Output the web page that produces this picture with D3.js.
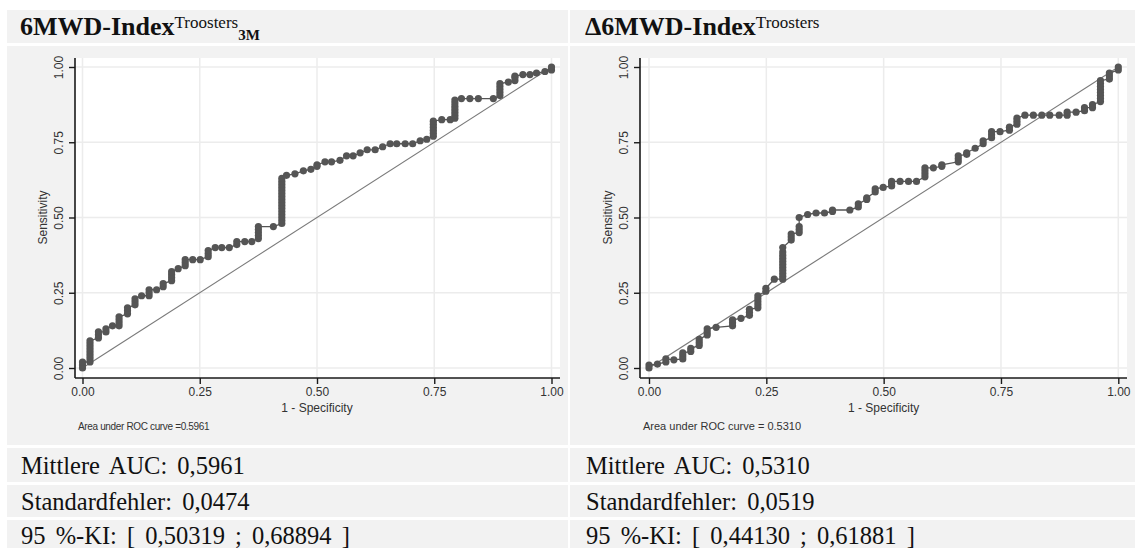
<!DOCTYPE html>
<meta charset="utf-8">
<script src="https://d3js.org/d3.v7.min.js"></script>
<style>
  body { margin: 0; background: #fff; }
  svg { display: block; }
</style>
<div id="my_dataviz"></div>
<script>
    // text content
    var titles = ["6MWD-Index", "\u03946MWD-Index"];
    var titleSup = ["Troosters", "Troosters"];
    var titleSub = ["3M", ""];
    var aucNotes = ["Area under ROC curve =0.5961", "Area under ROC curve = 0.5310"];
    var statAuc = ["Mittlere AUC: 0,5961", "Mittlere AUC: 0,5310"];
    var statSe = ["Standardfehler: 0,0474", "Standardfehler: 0,0519"];
    var statCi = ["95 %-KI: [ 0,50319 ; 0,68894 ]", "95 %-KI: [ 0,44130 ; 0,61881 ]"];
    var tickValues = [0, 0.25, 0.5, 0.75, 1];

    // ROC points [1 - specificity, sensitivity]
    var rocLeft = [
        [0,0],[0,0.01],[0,0.02],
        [0.016,0.02],[0.016,0.03],[0.016,0.04],[0.016,0.05],[0.016,0.06],[0.016,0.07],[0.016,0.08],[0.016,0.09],
        [0.034,0.10],[0.034,0.11],[0.034,0.12],
        [0.050,0.12],[0.050,0.13],
        [0.064,0.14],
        [0.078,0.14],[0.078,0.15],[0.078,0.16],[0.078,0.17],
        [0.096,0.18],[0.096,0.19],[0.096,0.20],
        [0.112,0.21],[0.112,0.22],[0.112,0.23],
        [0.126,0.24],
        [0.142,0.24],[0.142,0.25],[0.142,0.26],
        [0.158,0.26],
        [0.172,0.27],[0.172,0.28],
        [0.190,0.29],[0.190,0.30],[0.190,0.31],[0.190,0.32],
        [0.204,0.33],
        [0.219,0.34],[0.219,0.35],[0.219,0.36],
        [0.235,0.36],[0.251,0.36],
        [0.268,0.37],[0.268,0.38],[0.268,0.39],
        [0.283,0.40],[0.297,0.40],[0.313,0.40],
        [0.329,0.41],[0.329,0.42],
        [0.346,0.42],[0.361,0.42],
        [0.375,0.43],[0.375,0.44],[0.375,0.45],[0.375,0.46],[0.375,0.47],
        [0.407,0.47],
        [0.425,0.48],[0.425,0.49],[0.425,0.50],[0.425,0.51],[0.425,0.52],[0.425,0.53],[0.425,0.54],[0.425,0.55],
        [0.425,0.56],[0.425,0.57],[0.425,0.58],[0.425,0.59],[0.425,0.60],[0.425,0.61],[0.425,0.62],[0.425,0.63],
        [0.435,0.64],[0.453,0.645],[0.471,0.655],[0.487,0.66],
        [0.500,0.67],[0.500,0.675],
        [0.517,0.685],[0.531,0.685],[0.549,0.69],
        [0.563,0.705],[0.577,0.705],[0.592,0.715],
        [0.607,0.725],[0.624,0.725],[0.640,0.735],
        [0.656,0.745],[0.670,0.745],[0.688,0.745],[0.704,0.745],
        [0.720,0.755],[0.734,0.76],
        [0.748,0.77],[0.748,0.78],[0.748,0.79],[0.748,0.80],[0.748,0.81],[0.748,0.82],
        [0.766,0.825],[0.784,0.825],
        [0.794,0.83],[0.794,0.84],[0.794,0.85],[0.794,0.86],[0.794,0.87],[0.794,0.88],[0.794,0.89],
        [0.808,0.895],[0.826,0.895],[0.844,0.895],[0.876,0.895],
        [0.890,0.905],[0.890,0.915],[0.890,0.925],[0.890,0.935],[0.890,0.945],
        [0.908,0.95],
        [0.922,0.955],[0.922,0.965],[0.922,0.97],
        [0.939,0.975],[0.954,0.975],[0.968,0.98],[0.986,0.985],
        [1,0.99],[1,1]
    ];

    var rocRight = [
        [0,0],[0,0.01],
        [0.018,0.013],
        [0.036,0.02],[0.036,0.03],
        [0.053,0.027],
        [0.072,0.03],[0.072,0.04],[0.072,0.05],
        [0.089,0.055],[0.089,0.065],
        [0.107,0.075],[0.107,0.085],[0.107,0.095],
        [0.124,0.11],[0.124,0.12],[0.124,0.13],
        [0.143,0.135],
        [0.178,0.14],[0.178,0.15],[0.178,0.16],
        [0.196,0.165],
        [0.214,0.175],[0.214,0.185],[0.214,0.195],
        [0.232,0.20],[0.232,0.21],[0.232,0.22],[0.232,0.23],[0.232,0.24],
        [0.249,0.255],[0.249,0.265],
        [0.267,0.295],
        [0.285,0.295],[0.285,0.305],[0.285,0.315],[0.285,0.325],[0.285,0.335],[0.285,0.345],
        [0.285,0.355],[0.285,0.365],[0.285,0.375],[0.285,0.385],[0.285,0.40],
        [0.303,0.425],[0.303,0.435],[0.303,0.445],
        [0.320,0.45],[0.320,0.46],[0.320,0.47],[0.320,0.50],
        [0.338,0.51],[0.356,0.515],[0.374,0.515],
        [0.391,0.52],[0.391,0.525],
        [0.428,0.525],
        [0.446,0.535],[0.446,0.545],
        [0.464,0.56],[0.464,0.565],
        [0.482,0.585],[0.482,0.595],
        [0.499,0.60],
        [0.517,0.605],[0.517,0.615],[0.517,0.62],
        [0.535,0.62],[0.553,0.62],[0.570,0.62],
        [0.588,0.635],[0.588,0.645],[0.588,0.655],[0.588,0.665],
        [0.606,0.665],
        [0.624,0.67],[0.624,0.675],
        [0.659,0.685],[0.659,0.695],[0.659,0.705],
        [0.677,0.71],[0.677,0.715],
        [0.695,0.73],
        [0.712,0.745],[0.712,0.755],
        [0.730,0.765],[0.730,0.775],[0.730,0.785],
        [0.748,0.785],
        [0.768,0.79],[0.768,0.80],
        [0.784,0.81],[0.784,0.82],[0.784,0.83],
        [0.801,0.84],[0.819,0.84],[0.837,0.84],[0.854,0.84],[0.874,0.84],
        [0.891,0.84],[0.891,0.85],
        [0.910,0.85],
        [0.928,0.855],[0.928,0.865],
        [0.945,0.865],[0.945,0.875],
        [0.962,0.885],[0.962,0.895],[0.962,0.905],[0.962,0.915],[0.962,0.925],[0.962,0.935],[0.962,0.945],[0.962,0.955],
        [0.981,0.96],[0.981,0.97],[0.981,0.98],
        [1,0.99],[1,1]
    ];

    var W = 1135, H = 548;
    var grey = "#f2f2f2";
    var serif = "'Liberation Serif', 'Times New Roman', serif";
    var sans = "'Liberation Sans', Arial, sans-serif";

    // panel geometry
    var panels = [
        { data: rocLeft,  cellX: 7,   cellW: 561, axisX: 75,  xr: [82.5, 551.5], plotR: 560,  textX: 20,  statX: 21 },
        { data: rocRight, cellX: 570, cellW: 565, axisX: 640, xr: [649, 1118.3], plotR: 1127, textX: 585, statX: 586 }
    ];
    var rows = { head: [10, 33], chart: [46, 399], auc: [448, 34], se: [485, 32], ci: [520, 30] };
    var plotTop = 58, axisY = 378;

    var svg = d3.select("#my_dataviz")
        .append("svg")
        .attr("width", W)
        .attr("height", H);

    var y = d3.scaleLinear().domain([0, 1]).range([368, 67]);

    panels.forEach(function (p, i) {
        // table cells
        ["head", "chart", "auc", "se", "ci"].forEach(function (k) {
            svg.append("rect")
                .attr("x", p.cellX).attr("y", rows[k][0])
                .attr("width", p.cellW).attr("height", rows[k][1])
                .attr("fill", grey);
        });

        // title with super/subscript
        var t = svg.append("text")
            .attr("x", p.textX).attr("y", 35)
            .style("font-family", serif)
            .style("fill", "#111");
        t.append("tspan").style("font-size", "26px").style("font-weight", "bold").text(titles[i]);
        t.append("tspan").attr("dy", -7).style("font-size", "17px").text(titleSup[i]);
        if (titleSub[i]) {
            t.append("tspan").attr("dy", 12).style("font-size", "15px").style("font-weight", "bold").text(titleSub[i]);
        }

        var x = d3.scaleLinear().domain([0, 1]).range(p.xr);
        var g = svg.append("g");

        // plot region
        g.append("rect")
            .attr("x", p.axisX).attr("y", plotTop)
            .attr("width", p.plotR - p.axisX).attr("height", axisY - plotTop)
            .attr("fill", "#fff");

        // grid
        g.selectAll(".vgrid").data(tickValues).enter().append("line")
            .attr("x1", function (d) { return x(d); }).attr("x2", function (d) { return x(d); })
            .attr("y1", plotTop).attr("y2", axisY)
            .attr("stroke", "#ececec").attr("stroke-width", 1.5);
        g.selectAll(".hgrid").data(tickValues).enter().append("line")
            .attr("x1", p.axisX).attr("x2", p.plotR)
            .attr("y1", function (d) { return y(d); }).attr("y2", function (d) { return y(d); })
            .attr("stroke", "#ececec").attr("stroke-width", 1.5);

        // reference diagonal
        g.append("line")
            .attr("x1", x(0)).attr("y1", y(0))
            .attr("x2", x(1)).attr("y2", y(1))
            .attr("stroke", "#7a7a7a").attr("stroke-width", 1.1);

        // ROC curve
        var line = d3.line()
            .x(function (d) { return x(d[0]); })
            .y(function (d) { return y(d[1]); });
        g.append("path")
            .datum(p.data)
            .attr("d", line)
            .attr("fill", "none")
            .attr("stroke", "#555")
            .attr("stroke-width", 1.3);
        g.selectAll(".pt").data(p.data).enter().append("circle")
            .attr("cx", function (d) { return x(d[0]); })
            .attr("cy", function (d) { return y(d[1]); })
            .attr("r", 3.6)
            .attr("fill", "#555");

        // axes
        var xAxis = g.append("g")
            .attr("transform", "translate(0," + axisY + ")")
            .call(d3.axisBottom(x).tickValues(tickValues).tickSize(6).tickSizeOuter(0).tickFormat(d3.format(".2f")));
        xAxis.select(".domain").remove();
        xAxis.append("line").attr("x1", p.axisX).attr("x2", p.plotR).attr("stroke", "#1a1a1a").attr("stroke-width", 1.6);
        xAxis.selectAll(".tick line").attr("stroke", "#1a1a1a").attr("stroke-width", 1.4);
        xAxis.selectAll(".tick text")
            .attr("y", 14).attr("dy", "0")
            .attr("dominant-baseline", "central")
            .style("font-family", sans).style("font-size", "12px").style("fill", "#333");

        var yAxis = g.append("g")
            .attr("transform", "translate(" + p.axisX + ",0)")
            .call(d3.axisLeft(y).tickValues(tickValues).tickSize(6).tickSizeOuter(0).tickFormat(d3.format(".2f")));
        yAxis.select(".domain").remove();
        yAxis.append("line").attr("y1", plotTop).attr("y2", axisY).attr("stroke", "#1a1a1a").attr("stroke-width", 1.6);
        yAxis.selectAll(".tick line").attr("stroke", "#1a1a1a").attr("stroke-width", 1.4);
        yAxis.selectAll(".tick text")
            .attr("x", 0).attr("dy", "0")
            .attr("transform", "translate(-16,0) rotate(-90)")
            .attr("text-anchor", "middle")
            .attr("dominant-baseline", "central")
            .style("font-family", sans).style("font-size", "12px").style("fill", "#333");

        // axis titles
        g.append("text")
            .attr("transform", "translate(" + (p.axisX - 32) + "," + y(0.5) + ") rotate(-90)")
            .attr("text-anchor", "middle").attr("dominant-baseline", "central")
            .style("font-family", sans).style("font-size", "12px").style("fill", "#333")
            .text("Sensitivity");
        g.append("text")
            .attr("x", x(0.5)).attr("y", 408)
            .attr("text-anchor", "middle").attr("dominant-baseline", "central")
            .style("font-family", sans).style("font-size", "12px").style("fill", "#333")
            .text("1 - Specificity");
        g.append("text")
            .attr("x", p.axisX + 3).attr("y", 426)
            .attr("dominant-baseline", "central")
            .style("font-family", sans)
            .style("font-size", i === 0 ? "10px" : "11px")
            .style("letter-spacing", i === 0 ? "-0.35px" : "0px")
            .style("fill", "#333")
            .text(aucNotes[i]);

        // statistics rows
        [[statAuc[i], 474], [statSe[i], 510], [statCi[i], 544]].forEach(function (s) {
            svg.append("text")
                .attr("x", p.statX).attr("y", s[1])
                .style("font-family", serif).style("font-size", "24.5px")
                .style("word-spacing", "4px").style("fill", "#111")
                .text(s[0]);
        });
    });
</script>
